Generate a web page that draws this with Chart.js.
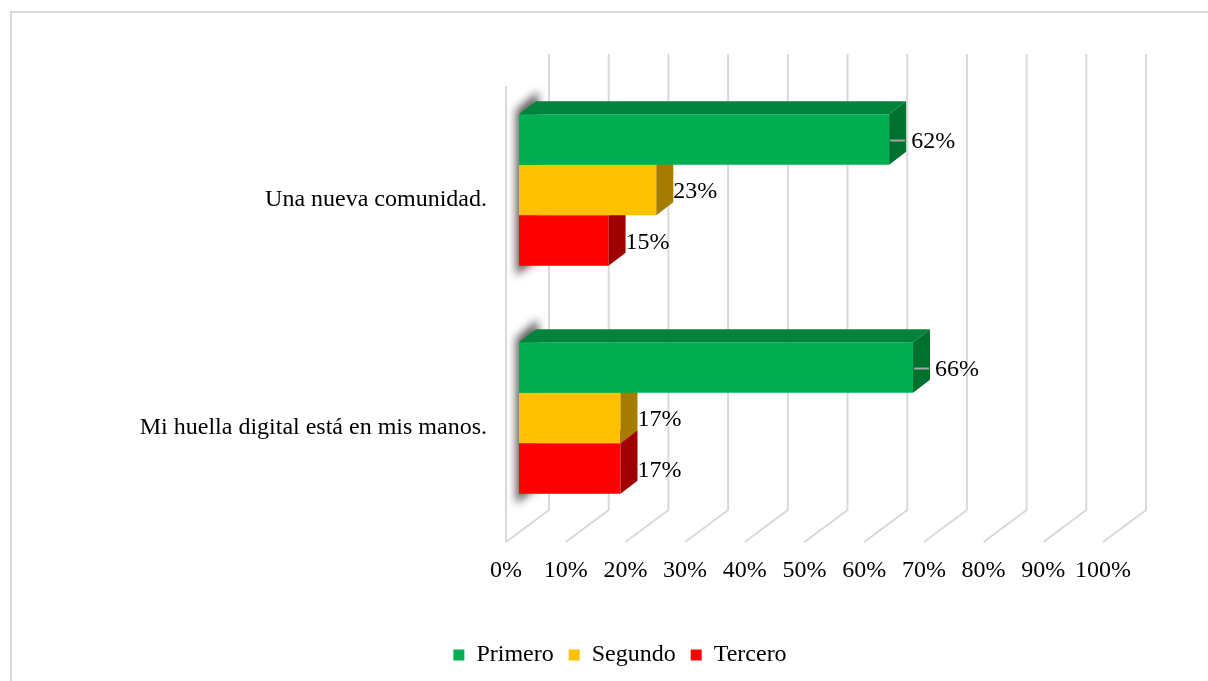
<!DOCTYPE html>
<html>
<head>
<meta charset="utf-8">
<script src="https://cdn.jsdelivr.net/npm/chart.js@4"></script>
<style>
  html, body { margin: 0; padding: 0; background: #fff; }
  #frame { position: absolute; left: 10px; top: 11px; width: 1400px; height: 900px;
           border-left: 2px solid #d9d9d9; border-top: 2px solid #d9d9d9; }
  #wrap { position: absolute; left: 0; top: 0; width: 1208px; height: 681px; }
</style>
</head>
<body>
<div id="frame"></div>
<div id="wrap"><canvas id="chart" width="1208" height="681"></canvas></div>
<script>
// --- Data ---
const categories = ['Una nueva comunidad.', 'Mi huella digital está en mis manos.'];
const seriesNames = ['Primero', 'Segundo', 'Tercero'];
const primero = [62, 66];
const segundo = [23, 17];
const tercero = [15, 17];
const xTicks = [0, 10, 20, 30, 40, 50, 60, 70, 80, 90, 100];

// --- Styles ---
const frontColors = ['#00b050', '#ffc000', '#ff0000'];
const topColors = ['#00843c', '#bf9000', '#bf0000'];
const sideColors = ['#00702f', '#a67c00', '#a00000'];
const gridColor = '#d9d9d9';
const FONT = 'Liberation Serif';
const DX = 17, DY = 13;          // bar depth
const BACK_DX = 30, BACK_DY = 22; // back wall offset from bar face
const FRONT_DX = 13, FRONT_DY = 10; // front edge offset

function poly(ctx, pts) {
    ctx.beginPath();
    ctx.moveTo(pts[0][0], pts[0][1]);
    for (let i = 1; i < pts.length; i++) ctx.lineTo(pts[i][0], pts[i][1]);
    ctx.closePath();
    ctx.fill();
}

// --- 3D look: walls, floor, depth faces, labels ---
const depth3d = {
    id: 'depth3d',
    beforeDatasetsDraw(chart) {
        const ctx = chart.ctx;
        const area = chart.chartArea;
        const xs = chart.scales.x;
        ctx.save();
        ctx.strokeStyle = gridColor;
        ctx.lineWidth = 2;
        xTicks.forEach(v => {
            const px = xs.getPixelForValue(v);
            ctx.beginPath();
            ctx.moveTo(px + BACK_DX, area.top - BACK_DY);
            ctx.lineTo(px + BACK_DX, area.bottom - BACK_DY);
            ctx.lineTo(px - FRONT_DX, area.bottom + FRONT_DY);
            ctx.stroke();
        });
        // left wall front edge
        ctx.beginPath();
        ctx.moveTo(area.left - FRONT_DX, area.top + FRONT_DY);
        ctx.lineTo(area.left - FRONT_DX, area.bottom + FRONT_DY);
        ctx.stroke();

        // soft shadow of each bar group on the left wall
        const first = chart.getDatasetMeta(0).data;
        const last = chart.getDatasetMeta(2).data;
        ctx.filter = 'blur(4px)';
        ctx.fillStyle = 'rgba(40,40,40,0.75)';
        first.forEach((bar, i) => {
            const top = bar.y - bar.height / 2;
            const bot = last[i].y + last[i].height / 2;
            const b = bar.base;
            poly(ctx, [[b - 3, top - 4], [b + DX + 2, top - DY - 10],
                       [b + DX + 2, bot - DY + 6], [b - 3, bot + 10]]);
        });
        ctx.filter = 'none';
        ctx.restore();
    },
    afterDatasetDraw(chart, args) {
        const ctx = chart.ctx;
        const i = args.index;
        ctx.save();
        args.meta.data.forEach(bar => {
            const top = bar.y - bar.height / 2;
            const bot = bar.y + bar.height / 2;
            const b = bar.base, x = bar.x;
            ctx.fillStyle = topColors[i];
            poly(ctx, [[b, top], [b + DX, top - DY], [x + DX, top - DY], [x, top]]);
            ctx.fillStyle = sideColors[i];
            poly(ctx, [[x, top], [x + DX, top - DY], [x + DX, bot - DY], [x, bot]]);
        });
        ctx.restore();
    },
    afterDatasetsDraw(chart) {
        const ctx = chart.ctx;
        ctx.save();
        ctx.font = '24px "' + FONT + '"';
        ctx.fillStyle = '#000';
        ctx.textBaseline = 'middle';
        ctx.textAlign = 'left';
        chart.data.datasets.forEach((ds, i) => {
            chart.getDatasetMeta(i).data.forEach((bar, j) => {
                const gap = i === 0 ? 5 : 0;
                if (i === 0) {
                    // leader line
                    ctx.strokeStyle = '#a6a6a6';
                    ctx.lineWidth = 2;
                    ctx.beginPath();
                    ctx.moveTo(bar.x + 1, bar.y + 1);
                    ctx.lineTo(bar.x + DX - 1, bar.y + 1);
                    ctx.stroke();
                }
                ctx.fillText(ds.data[j] + '%', bar.x + DX + gap, bar.y + 2);
            });
        });
        ctx.restore();
    }
};

const ctx = document.getElementById('chart').getContext('2d');
new Chart(ctx, {
    type: 'bar',
    data: {
        labels: categories,
        datasets: [
            { label: seriesNames[0], data: primero, backgroundColor: frontColors[0], order: 1 },
            { label: seriesNames[1], data: segundo, backgroundColor: frontColors[1], order: 2 },
            { label: seriesNames[2], data: tercero, backgroundColor: frontColors[2], order: 3 }
        ]
    },
    options: {
        indexAxis: 'y',
        responsive: false,
        animation: false,
        categoryPercentage: 0.664,
        barPercentage: 1.0,
        borderWidth: 0,
        layout: { padding: { left: 124, right: 92, top: 76, bottom: 4 } },
        scales: {
            x: {
                min: 0,
                max: 100,
                afterBuildTicks: s => { s.ticks = xTicks.map(v => ({ value: v })); },
                afterFit: s => { s.height = 96; },
                grid: { display: false, drawTicks: false },
                border: { display: false },
                ticks: {
                    callback: v => v + '%',
                    color: '#000',
                    font: { family: FONT, size: 24 },
                    padding: 24,
                    labelOffset: -FRONT_DX,
                    maxRotation: 0,
                    autoSkip: false
                }
            },
            y: {
                afterFit: s => { s.width = 395; },
                grid: { display: false, drawTicks: false },
                border: { display: false },
                ticks: {
                    color: '#000',
                    font: { family: FONT, size: 24 },
                    padding: 32,
                    labelOffset: FRONT_DY
                }
            }
        },
        plugins: {
            tooltip: { enabled: false },
            legend: {
                position: 'bottom',
                labels: {
                    boxWidth: 11,
                    boxHeight: 11,
                    padding: 15,
                    color: '#000',
                    font: { family: FONT, size: 24 },
                    sort: (a, b) => a.datasetIndex - b.datasetIndex
                }
            }
        }
    },
    plugins: [depth3d]
});
</script>
</body>
</html>
